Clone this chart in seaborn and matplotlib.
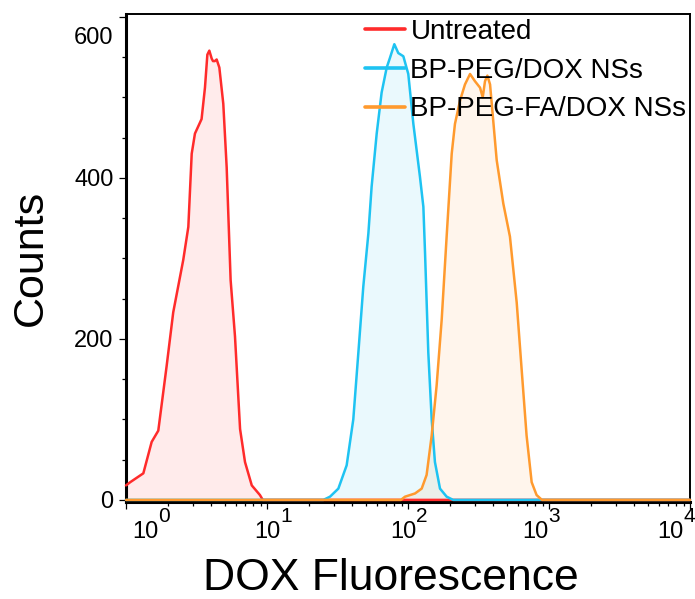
import numpy as np
import pandas as pd
import matplotlib
matplotlib.use("Agg")
import matplotlib.pyplot as plt
from matplotlib.ticker import LogLocator, NullFormatter, MultipleLocator, FixedLocator
from matplotlib.transforms import ScaledTranslation
import seaborn as sns

# Flow cytometry histograms: log10(DOX fluorescence) vs event counts
untreated_log = [0.0, 0.03, 0.123, 0.182, 0.229, 0.288, 0.335, 0.406, 0.442, 0.466,
                 0.489, 0.536, 0.560, 0.577, 0.591, 0.608, 0.617, 0.630, 0.643, 0.662,
                 0.690, 0.714, 0.742, 0.773, 0.809, 0.844, 0.892, 0.950, 0.970, 4.0]
untreated_counts = [18, 22, 33, 72, 86, 166, 233, 298, 339, 430,
                    455, 473, 512, 553, 558, 548, 545, 545, 547, 537,
                    492, 413, 273, 203, 88, 47, 18, 6, 0, 0]

peg_log = [0.0, 1.40, 1.447, 1.506, 1.565, 1.612, 1.648, 1.683, 1.719, 1.742,
           1.778, 1.813, 1.849, 1.872, 1.903, 1.931, 1.967, 2.002, 2.038, 2.085,
           2.109, 2.121, 2.144, 2.168, 2.191, 2.227, 2.274, 2.32, 4.0]
peg_counts = [0, 0, 4, 14, 43, 100, 183, 265, 331, 389,
              455, 506, 537, 549, 566, 555, 551, 529, 467, 401,
              364, 306, 183, 100, 47, 14, 4, 0, 0]

fa_log = [0.0, 1.95, 1.979, 2.050, 2.097, 2.132, 2.168, 2.203, 2.239, 2.274,
          2.310, 2.333, 2.369, 2.404, 2.440, 2.475, 2.511, 2.530, 2.546, 2.563,
          2.582, 2.594, 2.629, 2.676, 2.723, 2.771, 2.806, 2.841, 2.877, 2.912,
          2.95, 4.0]
fa_counts = [0, 0, 4, 8, 14, 31, 80, 142, 224, 327,
             430, 467, 496, 516, 529, 520, 512, 500, 520, 527,
             516, 492, 422, 368, 327, 245, 162, 80, 22, 6,
             0, 0]

samples = ["Untreated", "BP-PEG/DOX NSs", "BP-PEG-FA/DOX NSs"]
colors = ["#FF2B2B", "#1EC3F2", "#FF9A2E"]
y_ticks = [0, 200, 400, 600]
decades = [0, 1, 2, 3, 4]

series = [(untreated_log, untreated_counts), (peg_log, peg_counts), (fa_log, fa_counts)]
frames = []
for name, (lg, ct) in zip(samples, series):
    frames.append(pd.DataFrame({"fluor": 10.0 ** np.asarray(lg), "counts": ct, "sample": name}))
df = pd.concat(frames, ignore_index=True)

sns.set_style("ticks")
plt.rcParams["font.family"] = ["Liberation Sans", "DejaVu Sans"]
plt.rcParams.update({"text.color": "black", "axes.labelcolor": "black",
                     "xtick.color": "black", "ytick.color": "black",
                     "axes.edgecolor": "black"})

fig = plt.figure(figsize=(6.95, 5.99), dpi=100)
ax = fig.add_axes([126 / 695, 1 - 501.5 / 599, 564 / 695, 487.5 / 599])

palette = dict(zip(samples, colors))
for name in samples:
    sub = df[df["sample"] == name]
    ax.fill_between(sub["fluor"], sub["counts"], color=palette[name], alpha=0.09, lw=0)

sns.lineplot(data=df, x="fluor", y="counts", hue="sample", hue_order=samples,
             palette=palette, estimator=None, sort=False, lw=1.8, ax=ax,
             legend=True)
for ln in ax.lines:
    ln.set_clip_on(False)
    ln.set_solid_joinstyle("round")

ax.set_xscale("log")
ax.set_xlim(1, 1e4)
ax.set_ylim(-2, 603.5)

# axes frame
for side in ["left", "bottom"]:
    ax.spines[side].set_linewidth(2.2)
for side in ["top", "right"]:
    ax.spines[side].set_linewidth(1.4)
for s in ax.spines.values():
    s.set_color("black")
    s.set_zorder(1)

# y ticks
ax.yaxis.set_major_locator(FixedLocator(y_ticks))
ax.yaxis.set_minor_locator(MultipleLocator(50))
ax.set_yticklabels([str(v) for v in y_ticks])
ax.tick_params(axis="y", which="major", length=5, width=0.9, labelsize=17, pad=4,
               color="black", labelcolor="black")
ax.tick_params(axis="y", which="minor", length=3, width=0.9, color="black")
top_tick = ax.yaxis.get_major_ticks()[-1]
top_tick.label1.set_transform(top_tick.label1.get_transform()
                              + ScaledTranslation(0, -0.19, fig.dpi_scale_trans))

# x ticks (labels drawn as "10" with raised exponent)
ax.xaxis.set_major_locator(FixedLocator([10.0 ** k for k in decades]))
ax.xaxis.set_minor_locator(LogLocator(base=10, subs=np.arange(2, 10), numticks=20))
ax.xaxis.set_major_formatter(NullFormatter())
ax.xaxis.set_minor_formatter(NullFormatter())
ax.tick_params(axis="x", which="major", length=5, width=0.9, color="black")
ax.tick_params(axis="x", which="minor", length=3, width=0.9, color="black")

label_shift = [6, -13, -18, -27, -33]
for k, dx in zip(decades, label_shift):
    base = ax.annotate("10", xy=(10.0 ** k, 0), xycoords=("data", "axes fraction"),
                       xytext=(dx, -19.5), textcoords="offset pixels",
                       ha="left", va="top", fontsize=17, color="black",
                       annotation_clip=False)
    ax.annotate(str(k), xy=(1, 1), xycoords=base, xytext=(0, -5.5),
                textcoords="offset pixels", ha="left", va="bottom",
                fontsize=15, color="black", annotation_clip=False)

ax.set_xlabel("DOX Fluorescence", fontsize=32, color="black")
ax.set_ylabel("Counts", fontsize=31, color="black")
ax.xaxis.set_label_coords(0.47, -0.116)
ax.yaxis.set_label_coords(-0.133, 0.5)

handles, labels = ax.get_legend_handles_labels()
leg = ax.legend(handles, labels, loc="upper left", bbox_to_anchor=(0.423, 0.99),
                frameon=False, fontsize=20, borderpad=0, borderaxespad=0,
                handlelength=1.45, handletextpad=0.2, labelspacing=0.46)
for ln in leg.get_lines():
    ln.set_linewidth(2.6)
for t in leg.get_texts():
    t.set_color("black")

fig.savefig("out.png", dpi=100)
